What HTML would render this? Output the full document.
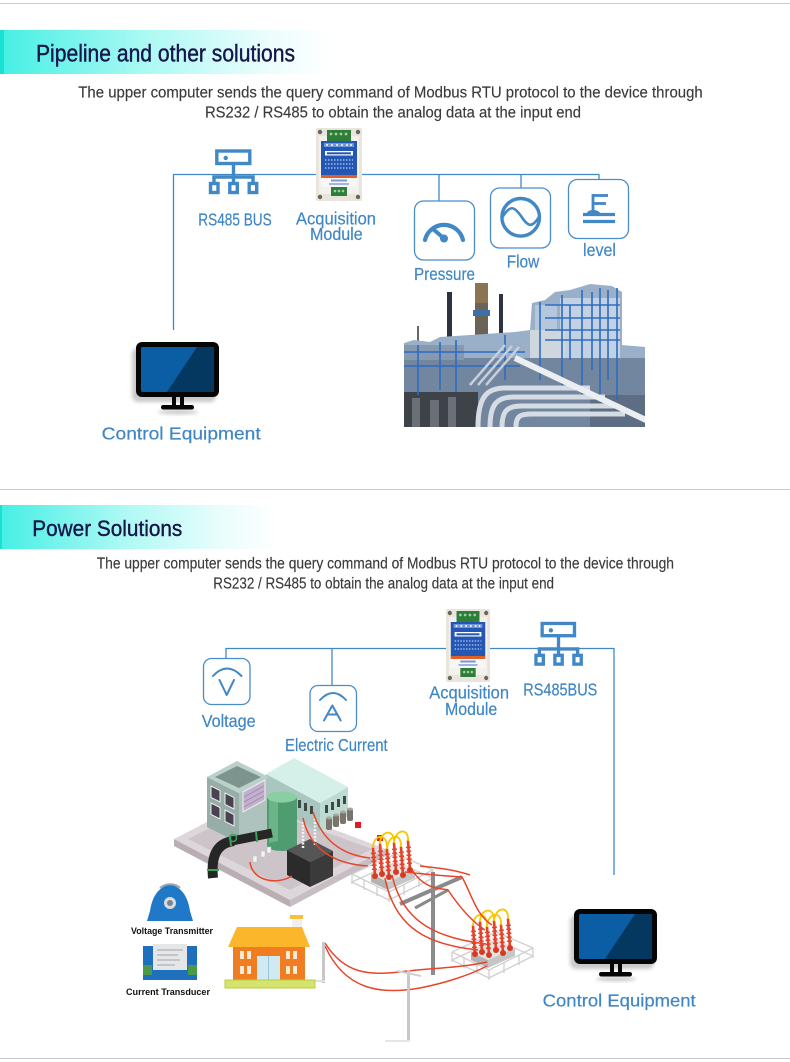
<!DOCTYPE html>
<html><head><meta charset="utf-8">
<style>
html,body{margin:0;padding:0;background:#fff;}
body{width:790px;height:1062px;overflow:hidden;}
svg{display:block;}
text{font-family:"Liberation Sans",sans-serif;}
.sub{fill:#3a3a3a;font-size:15.5px;stroke:#3a3a3a;stroke-width:0.15;}
.lbl{fill:#3f86c5;font-size:17.5px;stroke:#3f86c5;stroke-width:0.2;}
.ttl{fill:#16164a;stroke:#16164a;stroke-width:0.4;}
.sm{fill:#111;font-size:9px;font-weight:bold;}
</style></head><body>
<svg width="790" height="1062" viewBox="0 0 790 1062" xmlns="http://www.w3.org/2000/svg">
<defs>
 <linearGradient id="bg1" x1="0" x2="1" y1="0" y2="0">
  <stop offset="0" stop-color="#45efe4"/>
  <stop offset="0.45" stop-color="#aef9f4"/>
  <stop offset="0.8" stop-color="#eafdfc"/>
  <stop offset="1" stop-color="#ffffff"/>
 </linearGradient>
 <filter id="blur" x="-20%" y="-20%" width="140%" height="160%"><feGaussianBlur stdDeviation="1.8"/></filter>
 <clipPath id="pc"><rect x="404" y="282" width="241" height="145"/></clipPath>

 <g id="mod">
  <rect x="0" y="0" width="46" height="73" rx="2" fill="#e9e5dd"/>
  <rect x="3" y="8" width="40" height="58" fill="#f3f1ec"/>
  <circle cx="4" cy="4" r="2.2" fill="#6b6459"/>
  <circle cx="42" cy="4" r="2.2" fill="#6b6459"/>
  <circle cx="4" cy="69" r="2.2" fill="#6b6459"/>
  <circle cx="42" cy="69" r="2.2" fill="#6b6459"/>
  <rect x="11" y="2" width="24" height="11" fill="#2f7d3a"/>
  <g fill="#9fd09f"><circle cx="15" cy="6" r="1.4"/><circle cx="20" cy="6" r="1.4"/><circle cx="25" cy="6" r="1.4"/><circle cx="30" cy="6" r="1.4"/></g>
  <rect x="5" y="13" width="36" height="35" fill="#2456b3"/>
  <rect x="8" y="15" width="30" height="4" fill="#6f95dc"/>
  <g fill="#fff"><circle cx="11" cy="17" r="1"/><circle cx="16" cy="17" r="1"/><circle cx="21" cy="17" r="1"/><circle cx="26" cy="17" r="1"/><circle cx="31" cy="17" r="1"/><circle cx="35" cy="17" r="1"/></g>
  <rect x="9" y="23" width="28" height="4.5" fill="#fff"/>
  <rect x="11" y="24.3" width="24" height="2" fill="#2456b3"/>
  <g stroke="#dfe8ff" stroke-width="1" stroke-dasharray="1.5 1.5">
   <line x1="9" y1="32" x2="37" y2="32"/><line x1="9" y1="36" x2="37" y2="36"/><line x1="9" y1="40" x2="37" y2="40"/>
  </g>
  <rect x="5" y="47" width="36" height="3" fill="#e0602a"/>
  <rect x="5" y="50" width="36" height="9" fill="#f7f7f7"/>
  <rect x="15" y="51.5" width="16" height="2" fill="#7b9ad4"/>
  <rect x="13" y="55" width="20" height="2" fill="#9fb4e0"/>
  <rect x="15" y="59" width="16" height="9" fill="#2f7d3a"/>
  <g fill="#9fd09f"><circle cx="19" cy="63" r="1.3"/><circle cx="23" cy="63" r="1.3"/><circle cx="27" cy="63" r="1.3"/></g>
 </g>

 <g id="mon">
  <rect x="-4" y="6" width="84" height="54" rx="6" fill="#888" opacity="0.45" filter="url(#blur)"/>
  <ellipse cx="42" cy="70" rx="20" ry="2.5" fill="#999" opacity="0.5" filter="url(#blur)"/>
  <rect x="0" y="0" width="83" height="55" rx="6" fill="#050505"/>
  <rect x="5" y="5" width="73" height="45" rx="1.5" fill="#0b5ea3"/>
  <polygon points="61,5 78,5 78,50 31,50" fill="#053861"/>
  <rect x="36" y="54" width="4" height="10" fill="#050505"/>
  <rect x="44" y="54" width="4" height="10" fill="#050505"/>
  <rect x="25" y="63" width="33" height="4.5" rx="2.2" fill="#050505"/>
 </g>

 <g id="net" fill="none" stroke="#4088c6" stroke-width="3.4">
  <rect x="7.8" y="2" width="33" height="12.5"/>
  <circle cx="16.7" cy="9" r="2.2" fill="#4088c6" stroke="none"/>
  <line x1="24.5" y1="14.5" x2="24.5" y2="28"/>
  <line x1="3.3" y1="28" x2="45.7" y2="28"/>
  <line x1="5" y1="28" x2="5" y2="34"/>
  <line x1="24.5" y1="28" x2="24.5" y2="34"/>
  <line x1="44" y1="28" x2="44" y2="34"/>
  <rect x="1.5" y="34.5" width="7.5" height="9"/>
  <rect x="20.8" y="34.5" width="7.5" height="9"/>
  <rect x="40.2" y="34.5" width="7.5" height="9"/>
 </g>

 <g id="tf">
  <g stroke="#d0d0d0" stroke-width="1.3" fill="none">
   <polygon points="0,50 44,30 81,46 37,68"/>
   <polyline points="0,42 44,22 81,38"/>
   <polyline points="0,42 37,60 81,38"/>
   <line x1="0" y1="42" x2="0" y2="52"/><line x1="12" y1="48" x2="12" y2="58"/><line x1="25" y1="54" x2="25" y2="64"/>
   <line x1="37" y1="60" x2="37" y2="70"/><line x1="52" y1="53" x2="52" y2="63"/><line x1="67" y1="45" x2="67" y2="55"/><line x1="81" y1="38" x2="81" y2="48"/>
  </g>
  <polygon points="19,42 46,30 63,38 36,50" fill="#e2e2e2"/>
  <polygon points="19,42 36,50 36,58 19,50" fill="#b3b3b3"/>
  <polygon points="36,50 63,38 63,46 36,58" fill="#c6c6c6"/>
  <g stroke="#e4432a" stroke-width="2.6" stroke-linecap="round">
   <line x1="23" y1="44" x2="21" y2="16"/><line x1="30" y1="42" x2="28" y2="12"/><line x1="37" y1="45" x2="35" y2="17"/>
   <line x1="44" y1="40" x2="42" y2="11"/><line x1="51" y1="43" x2="49" y2="15"/><line x1="58" y1="38" x2="56" y2="9"/>
  </g>
  <g stroke="#e4432a" stroke-width="5" stroke-dasharray="1.5 2.5">
   <line x1="22.5" y1="38" x2="21.3" y2="20"/><line x1="29.5" y1="36" x2="28.3" y2="16"/><line x1="36.5" y1="39" x2="35.3" y2="21"/>
   <line x1="43.5" y1="34" x2="42.3" y2="15"/><line x1="50.5" y1="37" x2="49.3" y2="19"/><line x1="57.5" y1="32" x2="56.3" y2="13"/>
  </g>
  <g fill="#d63a22"><circle cx="23" cy="44" r="3"/><circle cx="30" cy="42" r="3"/><circle cx="37" cy="45" r="3"/><circle cx="44" cy="40" r="3"/><circle cx="51" cy="43" r="3"/><circle cx="58" cy="38" r="3"/></g>
  <g stroke="#f6c700" stroke-width="1.8" fill="none">
   <path d="M21,16 C21,2 36,0 35,17"/>
   <path d="M28,12 C28,-2 43,-4 42,11"/>
   <path d="M35,17 C36,2 50,0 49,15"/>
   <path d="M42,11 C43,-3 57,-5 56,9"/>
  </g>
 </g>
</defs>

<!-- separators -->
<rect x="0" y="3" width="790" height="1" fill="#cacaca"/>
<rect x="0" y="489" width="790" height="1" fill="#cacaca"/>
<rect x="0" y="1058" width="790" height="1" fill="#cacaca"/>

<!-- ===== Section 1 ===== -->
<rect x="0" y="30" width="332" height="44" fill="url(#bg1)"/>
<rect x="0" y="30" width="4" height="44" fill="#1ae2d2"/>
<text x="36" y="61.7" font-size="24" textLength="259" lengthAdjust="spacingAndGlyphs" class="ttl">Pipeline and other solutions</text>
<text x="78.3" y="97.3" class="sub" textLength="624.4" lengthAdjust="spacingAndGlyphs">The upper computer sends the query command of Modbus RTU protocol to the device through</text>
<text x="205" y="117.3" class="sub" textLength="376" lengthAdjust="spacingAndGlyphs">RS232 / RS485 to obtain the analog data at the input end</text>

<g stroke="#4088c6" stroke-width="1.3" fill="none">
 <path d="M173.5,330 V174.5 H599.5"/>
 <line x1="439" y1="174.5" x2="439" y2="201"/>
 <line x1="521" y1="174.5" x2="521" y2="188"/>
 <line x1="599" y1="174.5" x2="599" y2="179.5"/>
</g>

<use href="#net" transform="translate(209,149)"/>
<text x="198.3" y="225.7" class="lbl" font-size="17" textLength="73.4" lengthAdjust="spacingAndGlyphs">RS485 BUS</text>

<use href="#mod" transform="translate(316,128)"/>
<text x="296" y="224.3" class="lbl" textLength="80" lengthAdjust="spacingAndGlyphs">Acquisition</text>
<text x="310" y="240" class="lbl" textLength="52.7" lengthAdjust="spacingAndGlyphs">Module</text>

<!-- icon boxes -->
<g fill="#fff" stroke="#4a8dc9" stroke-width="1.3">
 <rect x="414.5" y="201" width="60" height="59" rx="9"/>
 <rect x="490.5" y="188" width="60" height="60" rx="9"/>
 <rect x="568.5" y="179.5" width="60" height="59" rx="9"/>
</g>
<!-- pressure -->
<g stroke="#4088c6" fill="none" stroke-linecap="round">
 <path d="M425,240 A19.5,19.5 0 0 1 463,240" stroke-width="4.2"/>
 <line x1="433" y1="229" x2="443.5" y2="238" stroke-width="4"/>
</g>
<circle cx="444" cy="238.5" r="4" fill="#4088c6"/>
<!-- flow -->
<g stroke="#4088c6" fill="none" stroke-width="3.4">
 <circle cx="520.7" cy="217.3" r="18.8"/>
 <path d="M502.5,217 C510,205 514,206 521,216 C528,227 532,228 539,217" stroke-width="2.6"/>
</g>
<!-- level -->
<g stroke="#4088c6" fill="none" stroke-width="2.8">
 <line x1="593" y1="194" x2="593" y2="211"/>
 <line x1="593" y1="195.5" x2="608" y2="195.5"/>
 <line x1="593" y1="203.5" x2="606" y2="203.5"/>
 <line x1="583" y1="214.5" x2="615" y2="214.5" stroke-width="3.2"/>
 <line x1="583" y1="221.5" x2="615" y2="221.5" stroke-width="3.2"/>
</g>
<path d="M587,213 C588,209 598,209 600,213 Z" fill="#4088c6"/>

<text x="414" y="280" class="lbl" textLength="61" lengthAdjust="spacingAndGlyphs">Pressure</text>
<text x="506.7" y="267.3" class="lbl" textLength="32.6" lengthAdjust="spacingAndGlyphs">Flow</text>
<text x="583" y="256" class="lbl" textLength="33" lengthAdjust="spacingAndGlyphs">level</text>

<use href="#mon" transform="translate(136,342)"/>
<text x="101.7" y="439.3" class="lbl" font-size="19.5" textLength="159" lengthAdjust="spacingAndGlyphs">Control Equipment</text>

<!-- refinery photo -->
<g clip-path="url(#pc)">
 <rect x="404" y="282" width="241" height="145" fill="#fff"/>
 <rect x="447" y="292" width="5" height="60" fill="#2c3440"/>
 <rect x="475" y="283" width="13" height="62" fill="#6a6458"/>
 <rect x="475" y="283" width="13" height="20" fill="#8a7452"/>
 <rect x="473" y="310" width="17" height="6" fill="#3f6fa8"/>
 <rect x="499" y="294" width="4" height="50" fill="#2c3440"/>
 <rect x="417" y="326" width="2" height="24" fill="#666"/>
 <polygon points="404,343 414,340 430,342 440,337 470,335 500,333 515,332 530,330 532,303 545,300 555,292 570,290 590,284 612,286 622,292 622,345 645,347 645,427 404,427" fill="#9ab0c8"/>
 <rect x="560" y="298" width="60" height="60" fill="#c2d2e4"/>
 <rect x="535" y="305" width="22" height="30" fill="#b5c7dc"/>
 <rect x="530" y="330" width="35" height="30" fill="#cfd6de"/>
 <rect x="404" y="358" width="241" height="69" fill="#72879f"/>
 <rect x="404" y="345" width="60" height="15" fill="#8799b0"/>
 <polygon points="404,392 478,392 478,427 404,427" fill="#3e4349"/>
 <g fill="#6b7078"><rect x="412" y="398" width="8" height="29"/><rect x="430" y="400" width="9" height="27"/><rect x="448" y="397" width="8" height="30"/></g>
 <rect x="590" y="395" width="55" height="32" fill="#5d6e84"/>
 <g stroke="#2d6cc0" stroke-width="1.6">
  <line x1="418" y1="345" x2="418" y2="395"/><line x1="440" y1="342" x2="440" y2="390"/><line x1="456" y1="340" x2="456" y2="392"/>
  <line x1="505" y1="335" x2="505" y2="380"/><line x1="540" y1="302" x2="540" y2="380"/><line x1="562" y1="295" x2="562" y2="390"/>
  <line x1="582" y1="290" x2="582" y2="395"/><line x1="600" y1="288" x2="600" y2="395"/><line x1="617" y1="288" x2="617" y2="400"/>
  <line x1="404" y1="352" x2="525" y2="352"/><line x1="404" y1="366" x2="520" y2="366"/><line x1="545" y1="318" x2="620" y2="318"/><line x1="545" y1="340" x2="620" y2="340"/>
  <line x1="570" y1="305" x2="570" y2="360"/><line x1="592" y1="292" x2="592" y2="370"/><line x1="608" y1="290" x2="608" y2="380"/>
  <line x1="545" y1="305" x2="620" y2="305"/><line x1="545" y1="330" x2="620" y2="330"/>
 </g>
 <g stroke="#d6dce3" stroke-width="5" fill="none">
  <path d="M478,427 C478,398 486,388 505,388 L590,388"/>
  <path d="M490,427 C490,404 497,397 514,397 L605,397"/>
  <path d="M502,427 C502,410 508,406 522,406 L615,406"/>
  <path d="M516,427 C516,416 520,414 532,414 L625,414"/>
 </g>
 <g stroke="#c6cfd9" stroke-width="2.5">
  <line x1="470" y1="385" x2="505" y2="345"/><line x1="478" y1="385" x2="512" y2="346"/><line x1="486" y1="385" x2="519" y2="347"/>
 </g>
 <line x1="515" y1="358" x2="648" y2="421" stroke="#eceff2" stroke-width="6"/>
</g>

<!-- ===== Section 2 ===== -->
<rect x="0" y="505" width="278" height="44" fill="url(#bg1)"/>
<rect x="0" y="505" width="2" height="44" fill="#1ae2d2"/>
<text x="32.3" y="536" font-size="22.5" textLength="150" lengthAdjust="spacingAndGlyphs" class="ttl">Power Solutions</text>
<text x="96.7" y="568.3" class="sub" textLength="577.3" lengthAdjust="spacingAndGlyphs">The upper computer sends the query command of Modbus RTU protocol to the device through</text>
<text x="213.3" y="588.3" class="sub" textLength="340.7" lengthAdjust="spacingAndGlyphs">RS232 / RS485 to obtain the analog data at the input end</text>

<g stroke="#4088c6" stroke-width="1.3" fill="none">
 <path d="M226,658 V648.5 H614 V875"/>
 <line x1="332" y1="648.5" x2="332" y2="685"/>
</g>

<g fill="#fff" stroke="#4a8dc9" stroke-width="1.3">
 <rect x="203.5" y="658.5" width="46.5" height="46" rx="8"/>
 <rect x="310" y="685.5" width="46.5" height="46" rx="8"/>
</g>
<g stroke="#4088c6" fill="none" stroke-width="2" stroke-linecap="round" stroke-linejoin="round">
 <path d="M213,676 Q227,661 241.5,676"/>
 <path d="M219.5,680 L226.7,695 L234,680"/>
 <path d="M320,700 Q333,686 346,700"/>
 <path d="M324,720.5 L332.3,705.5 L340.7,720.5 M327.3,714.5 L337.3,714.5"/>
</g>
<text x="201.7" y="727" class="lbl" textLength="54" lengthAdjust="spacingAndGlyphs">Voltage</text>
<text x="285" y="751.2" class="lbl" font-size="17" textLength="102.7" lengthAdjust="spacingAndGlyphs">Electric Current</text>

<use href="#mod" transform="translate(446,609) scale(0.957,1)"/>
<text x="429.3" y="698.5" class="lbl" textLength="79.7" lengthAdjust="spacingAndGlyphs">Acquisition</text>
<text x="445" y="715" class="lbl" textLength="52.3" lengthAdjust="spacingAndGlyphs">Module</text>

<use href="#net" transform="translate(534.5,621.5) scale(0.98,0.98)"/>
<text x="523.3" y="695.5" class="lbl" font-size="17" textLength="74" lengthAdjust="spacingAndGlyphs">RS485BUS</text>

<use href="#mon" transform="translate(574,909)"/>
<text x="542.7" y="1006.7" class="lbl" font-size="19" textLength="153" lengthAdjust="spacingAndGlyphs">Control Equipment</text>

<!-- power scene -->
<polygon points="174,839 252,799 386,849 290,900" fill="#ddd6da"/>
<polygon points="174,839 290,900 290,907 174,846" fill="#b8aeb4"/>
<polygon points="290,900 386,849 386,856 290,907" fill="#c7bec3"/>
<polygon points="188,839 254,806 372,849 290,890" fill="#cdc4c9"/>

<!-- mint building -->
<polygon points="266,774 320,803 320,832 266,803" fill="#a9c7c0"/>
<polygon points="320,803 348,787 348,816 320,832" fill="#bddad3"/>
<polygon points="266,774 294,758 348,787 320,803" fill="#d5efe9"/>
<g fill="#3b4a47">
 <rect x="298" y="800" width="3" height="8"/><rect x="304" y="803" width="3" height="8"/><rect x="310" y="806" width="3" height="8"/>
 <rect x="325" y="805" width="3" height="8"/><rect x="331" y="802" width="3" height="8"/><rect x="337" y="799" width="3" height="8"/><rect x="343" y="796" width="3" height="8"/>
</g>

<!-- left building -->
<polygon points="207,777 239,793 239,843 207,827" fill="#97ada7"/>
<polygon points="239,793 269,777 269,827 239,843" fill="#aec3bd"/>
<polygon points="207,777 237,761 269,777 239,793" fill="#bad0ca"/>
<polygon points="215,777 237,766 261,777 239,788" fill="#7d948e"/>
<g fill="#4a4250" stroke="#eeeeee" stroke-width="1">
 <polygon points="211,786 220,790.5 220,802 211,797.5"/>
 <polygon points="225,793 234,797.5 234,809 225,804.5"/>
 <polygon points="211,803 220,807.5 220,819 211,814.5"/>
 <polygon points="225,810 234,814.5 234,826 225,821.5"/>
</g>
<polygon points="243,792 265,780 265,800 243,812" fill="#c3b0cf" stroke="#eeeeee" stroke-width="1"/>
<g stroke="#9c88ad" stroke-width="0.8"><line x1="244" y1="797" x2="264" y2="786"/><line x1="244" y1="802" x2="264" y2="791"/><line x1="244" y1="807" x2="264" y2="796"/></g>

<!-- tank -->
<rect x="267" y="797" width="30" height="49" fill="#4f9c70"/>
<rect x="269" y="797" width="9" height="49" fill="#6bb487"/>
<ellipse cx="282" cy="846" rx="15" ry="5" fill="#4f9c70"/>
<ellipse cx="282" cy="797" rx="15" ry="5.5" fill="#8acfa2"/>

<!-- pipe -->
<path d="M272,833 L232,841" stroke="#262626" stroke-width="9" fill="none"/>
<path d="M234,841 C216,843 211,857 213,878" stroke="#262626" stroke-width="10" fill="none"/>
<g stroke="#3aa455" stroke-width="2" fill="none"><path d="M207,870 L219,870"/><path d="M230,836 L231,846"/><path d="M256,832 L257,842"/></g>
<circle cx="233" cy="838" r="3.5" fill="none" stroke="#3aa455" stroke-width="1.5"/>

<!-- white boxes -->
<g fill="#f4f4f4" stroke="#bbb" stroke-width="0.5">
 <rect x="253" y="856" width="4" height="6"/><rect x="261" y="851" width="4" height="6"/><rect x="267" y="847" width="4" height="6"/>
</g>

<!-- black transformer -->
<polygon points="287,850 310,839 333,851 310,862" fill="#555"/>
<polygon points="287,850 310,862 310,887 287,875" fill="#2b2b2b"/>
<polygon points="310,862 333,851 333,876 310,887" fill="#3a3a3a"/>
<g stroke="#f2f2f2" stroke-width="2.5" stroke-dasharray="2 1.5">
 <line x1="303" y1="848" x2="303" y2="822"/><line x1="315" y1="845" x2="315" y2="818"/>
</g>

<!-- barrels and cubes -->
<g fill="#7a746c"><rect x="326" y="818" width="6" height="12" rx="2"/><rect x="333" y="815" width="6" height="12" rx="2"/><rect x="340" y="812" width="6" height="12" rx="2"/><rect x="347" y="809" width="6" height="12" rx="2"/></g>
<g fill="#a9a39b"><ellipse cx="329" cy="818" rx="3" ry="1.5"/><ellipse cx="336" cy="815" rx="3" ry="1.5"/><ellipse cx="343" cy="812" rx="3" ry="1.5"/><ellipse cx="350" cy="809" rx="3" ry="1.5"/></g>
<rect x="355" y="822" width="6" height="6" fill="#e01b24"/>
<rect x="377" y="835" width="6" height="6" fill="#e01b24"/>

<!-- cables from building -->
<g stroke="#e8452a" stroke-width="1.5" fill="none">
 <path d="M250,862 C252,880 275,886 292,876"/>
 <path d="M303,818 C310,850 335,864 368,866"/>
 <path d="M313,812 C322,840 342,855 370,858"/>
</g>

<use href="#tf" transform="translate(352,832)"/>

<!-- pole -->
<rect x="431" y="872" width="4" height="103" fill="#8c8c8c"/>
<line x1="400" y1="904" x2="462" y2="877" stroke="#8a8a8a" stroke-width="4"/>
<line x1="415" y1="908" x2="448" y2="890" stroke="#8a8a8a" stroke-width="3"/>

<use href="#tf" transform="translate(452,910)"/>

<!-- cables between -->
<g stroke="#e8452a" stroke-width="1.5" fill="none">
 <path d="M385,878 C395,930 430,945 478,950"/>
 <path d="M392,875 C403,925 440,938 486,944"/>
 <path d="M405,872 C430,875 450,876 462,877 C472,895 476,915 492,925"/>
 <path d="M412,870 C425,890 440,888 448,890 C458,905 470,920 485,930"/>
 <path d="M420,866 C440,868 455,870 470,875"/>
 <path d="M325,943 C345,975 370,975 400,972 C430,968 460,968 487,962"/>
 <path d="M325,946 C345,990 380,995 420,988 C445,983 470,975 487,966"/>
</g>

<!-- poles light -->
<rect x="322" y="942" width="3" height="41" fill="#c8c8c8"/>
<rect x="312" y="980" width="13" height="2" fill="#e0e0e0"/>
<rect x="407" y="970" width="3" height="72" fill="#c8c8c8"/>
<line x1="397" y1="971" x2="421" y2="976" stroke="#d0d0d0" stroke-width="2"/>
<rect x="385" y="1040" width="25" height="2" fill="#e6e6e6"/>

<!-- house -->
<rect x="290" y="915" width="13" height="4" fill="#f9c13a"/>
<rect x="292" y="919" width="10" height="8" fill="#efefef"/>
<polygon points="237,927 302,927 310,947 228,947" fill="#fbb62b"/>
<rect x="233" y="947" width="72" height="33" fill="#f07d21"/>
<g fill="#f8ead8">
 <rect x="240" y="951" width="4" height="8"/><rect x="247" y="951" width="4" height="8"/>
 <rect x="240" y="966" width="4" height="8"/><rect x="247" y="966" width="4" height="8"/>
 <rect x="286" y="951" width="4" height="8"/><rect x="293" y="951" width="4" height="8"/>
 <rect x="286" y="966" width="4" height="8"/><rect x="293" y="966" width="4" height="8"/>
</g>
<rect x="257" y="956" width="23" height="24" fill="#cfeaf2"/>
<line x1="268.5" y1="956" x2="268.5" y2="980" stroke="#9cc5d3" stroke-width="1"/>
<polygon points="225,980 315,980 315,988 225,988" fill="#d5e46d" stroke="#b8cc4a" stroke-width="1"/>

<!-- voltage transmitter -->
<path d="M147,921 L193,921 L190,911 C188,898 183,888 170,884 C157,888 152,898 150,911 Z" fill="#1f78c8"/>
<path d="M160,888 C166,883 175,883 180,888" stroke="#9aa6b0" stroke-width="2" fill="none"/>
<circle cx="170" cy="903" r="6" fill="#d8dde0"/>
<circle cx="170" cy="903" r="3" fill="#7d858c"/>
<text x="131" y="934" class="sm" textLength="82" lengthAdjust="spacingAndGlyphs">Voltage Transmitter</text>

<!-- current transducer -->
<rect x="143" y="946" width="54" height="34" fill="#1f6fbf"/>
<rect x="153" y="944" width="34" height="26" fill="#e4e6e8"/>
<g stroke="#8a8f94" stroke-width="0.8"><line x1="157" y1="950" x2="183" y2="950"/><line x1="157" y1="955" x2="178" y2="955"/><line x1="157" y1="960" x2="180" y2="960"/><line x1="157" y1="965" x2="175" y2="965"/></g>
<rect x="143" y="965" width="9" height="10" fill="#4a9a4a"/>
<rect x="188" y="965" width="9" height="10" fill="#4a9a4a"/>
<text x="126" y="995" class="sm" textLength="84" lengthAdjust="spacingAndGlyphs">Current Transducer</text>
</svg>
</body></html>
